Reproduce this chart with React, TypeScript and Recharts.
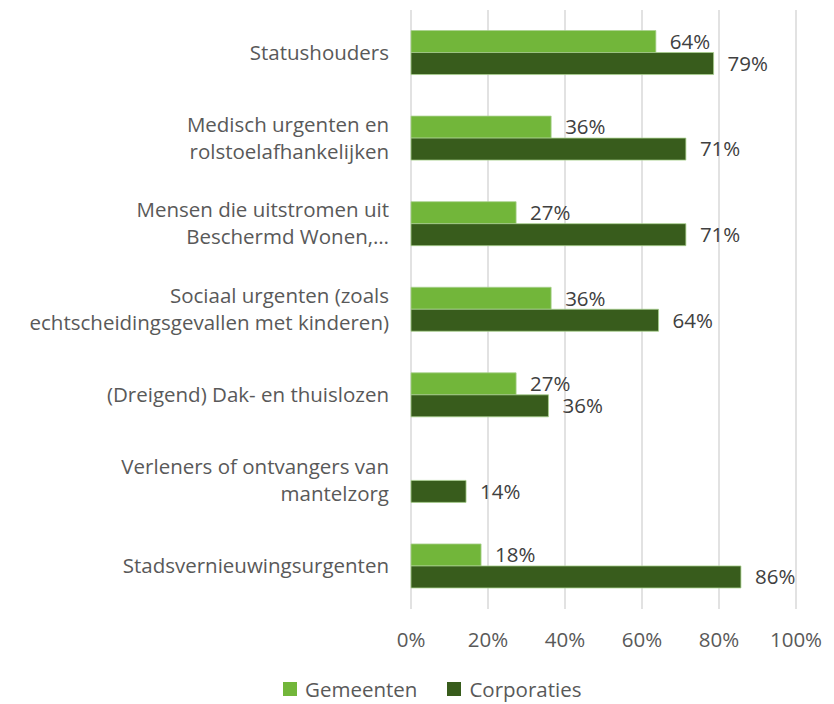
import React from 'react';
import { BarChart, Bar, XAxis, YAxis, CartesianGrid, LabelList } from 'recharts';

const categories: string[][] = [
  ['Statushouders'],
  ['Medisch urgenten en', 'rolstoelafhankelijken'],
  ['Mensen die uitstromen uit', 'Beschermd Wonen,…'],
  ['Sociaal urgenten (zoals', 'echtscheidingsgevallen met kinderen)'],
  ['(Dreigend) Dak- en thuislozen'],
  ['Verleners of ontvangers van', 'mantelzorg'],
  ['Stadsvernieuwingsurgenten'],
];
const gemeenten: (number | null)[] = [63.6, 36.4, 27.3, 36.4, 27.3, null, 18.2];
const corporaties: number[] = [78.6, 71.4, 71.4, 64.3, 35.7, 14.3, 85.7];
const xTicks: number[] = [0, 20, 40, 60, 80, 100];
const seriesNames: string[] = ['Gemeenten', 'Corporaties'];

const data = categories.map((c, i) => ({
  name: c.join('\n'),
  gemeenten: gemeenten[i],
  corporaties: corporaties[i],
}));

const FONT = '"Open Sans", sans-serif';
const LIGHT = '#72B63A';
const DARK = '#385C1C';
const FS = 20.5;

const YTick = (props: any) => {
  const { y, payload } = props;
  const lines: string[] = String(payload.value).split('\n');
  const lh = 27;
  const start = -((lines.length - 1) * lh) / 2;
  return (
    <g>
      {lines.map((l, i) => (
        <text key={i} x={389} y={y + start + i * lh} dy={7} textAnchor="end" fill="#595959" fontSize={FS} fontFamily={FONT}>
          {l}
        </text>
      ))}
    </g>
  );
};

const XTick = (props: any) => {
  const { x, payload } = props;
  return (
    <text x={x} y={640} dy={7} textAnchor="middle" fill="#595959" fontSize={FS} fontFamily={FONT}>
      {payload.value}%
    </text>
  );
};

const fmt = (v: any) => (v == null ? '' : `${Math.round(v)}%`);

export default function App() {
  return (
    <div style={{ position: 'absolute', left: 0, top: 0, width: 834, height: 704, background: '#fff' }}>
      <BarChart
        width={834}
        height={704}
        data={data}
        layout="vertical"
        margin={{ top: 10, right: 38, bottom: 45, left: 0 }}
        barCategoryGap="24%"
        barGap={0}
      >
        <CartesianGrid horizontal={false} stroke="#d9d9d9" strokeWidth={1.5} />
        <XAxis type="number" domain={[0, 100]} ticks={xTicks} axisLine={false} tickLine={false} tick={<XTick />} height={50} />
        <YAxis type="category" dataKey="name" width={411} axisLine={false} tickLine={false} tick={<YTick />} interval={0} />
        <Bar dataKey="gemeenten" name={seriesNames[0]} fill={LIGHT} stroke="#a9d18e" strokeWidth={0.8} isAnimationActive={false}>
          <LabelList dataKey="gemeenten" position="right" offset={14} formatter={fmt} fill="#404040" fontSize={FS} fontFamily={FONT} />
        </Bar>
        <Bar dataKey="corporaties" name={seriesNames[1]} fill={DARK} stroke="#a9d18e" strokeWidth={0.8} isAnimationActive={false}>
          <LabelList dataKey="corporaties" position="right" offset={14} formatter={fmt} fill="#404040" fontSize={FS} fontFamily={FONT} />
        </Bar>
      </BarChart>
      <div
        style={{
          position: 'absolute', left: 283, top: 676, height: 26,
          display: 'flex', alignItems: 'center',
          fontFamily: FONT, fontSize: FS, color: '#595959', lineHeight: '26px', whiteSpace: 'nowrap',
        }}
      >
        <span style={{ display: 'inline-block', width: 14, height: 14, background: LIGHT, marginRight: 8 }} />
        <span style={{ marginRight: 30 }}>{seriesNames[0]}</span>
        <span style={{ display: 'inline-block', width: 14, height: 14, background: DARK, marginRight: 8 }} />
        <span>{seriesNames[1]}</span>
      </div>
    </div>
  );
}
